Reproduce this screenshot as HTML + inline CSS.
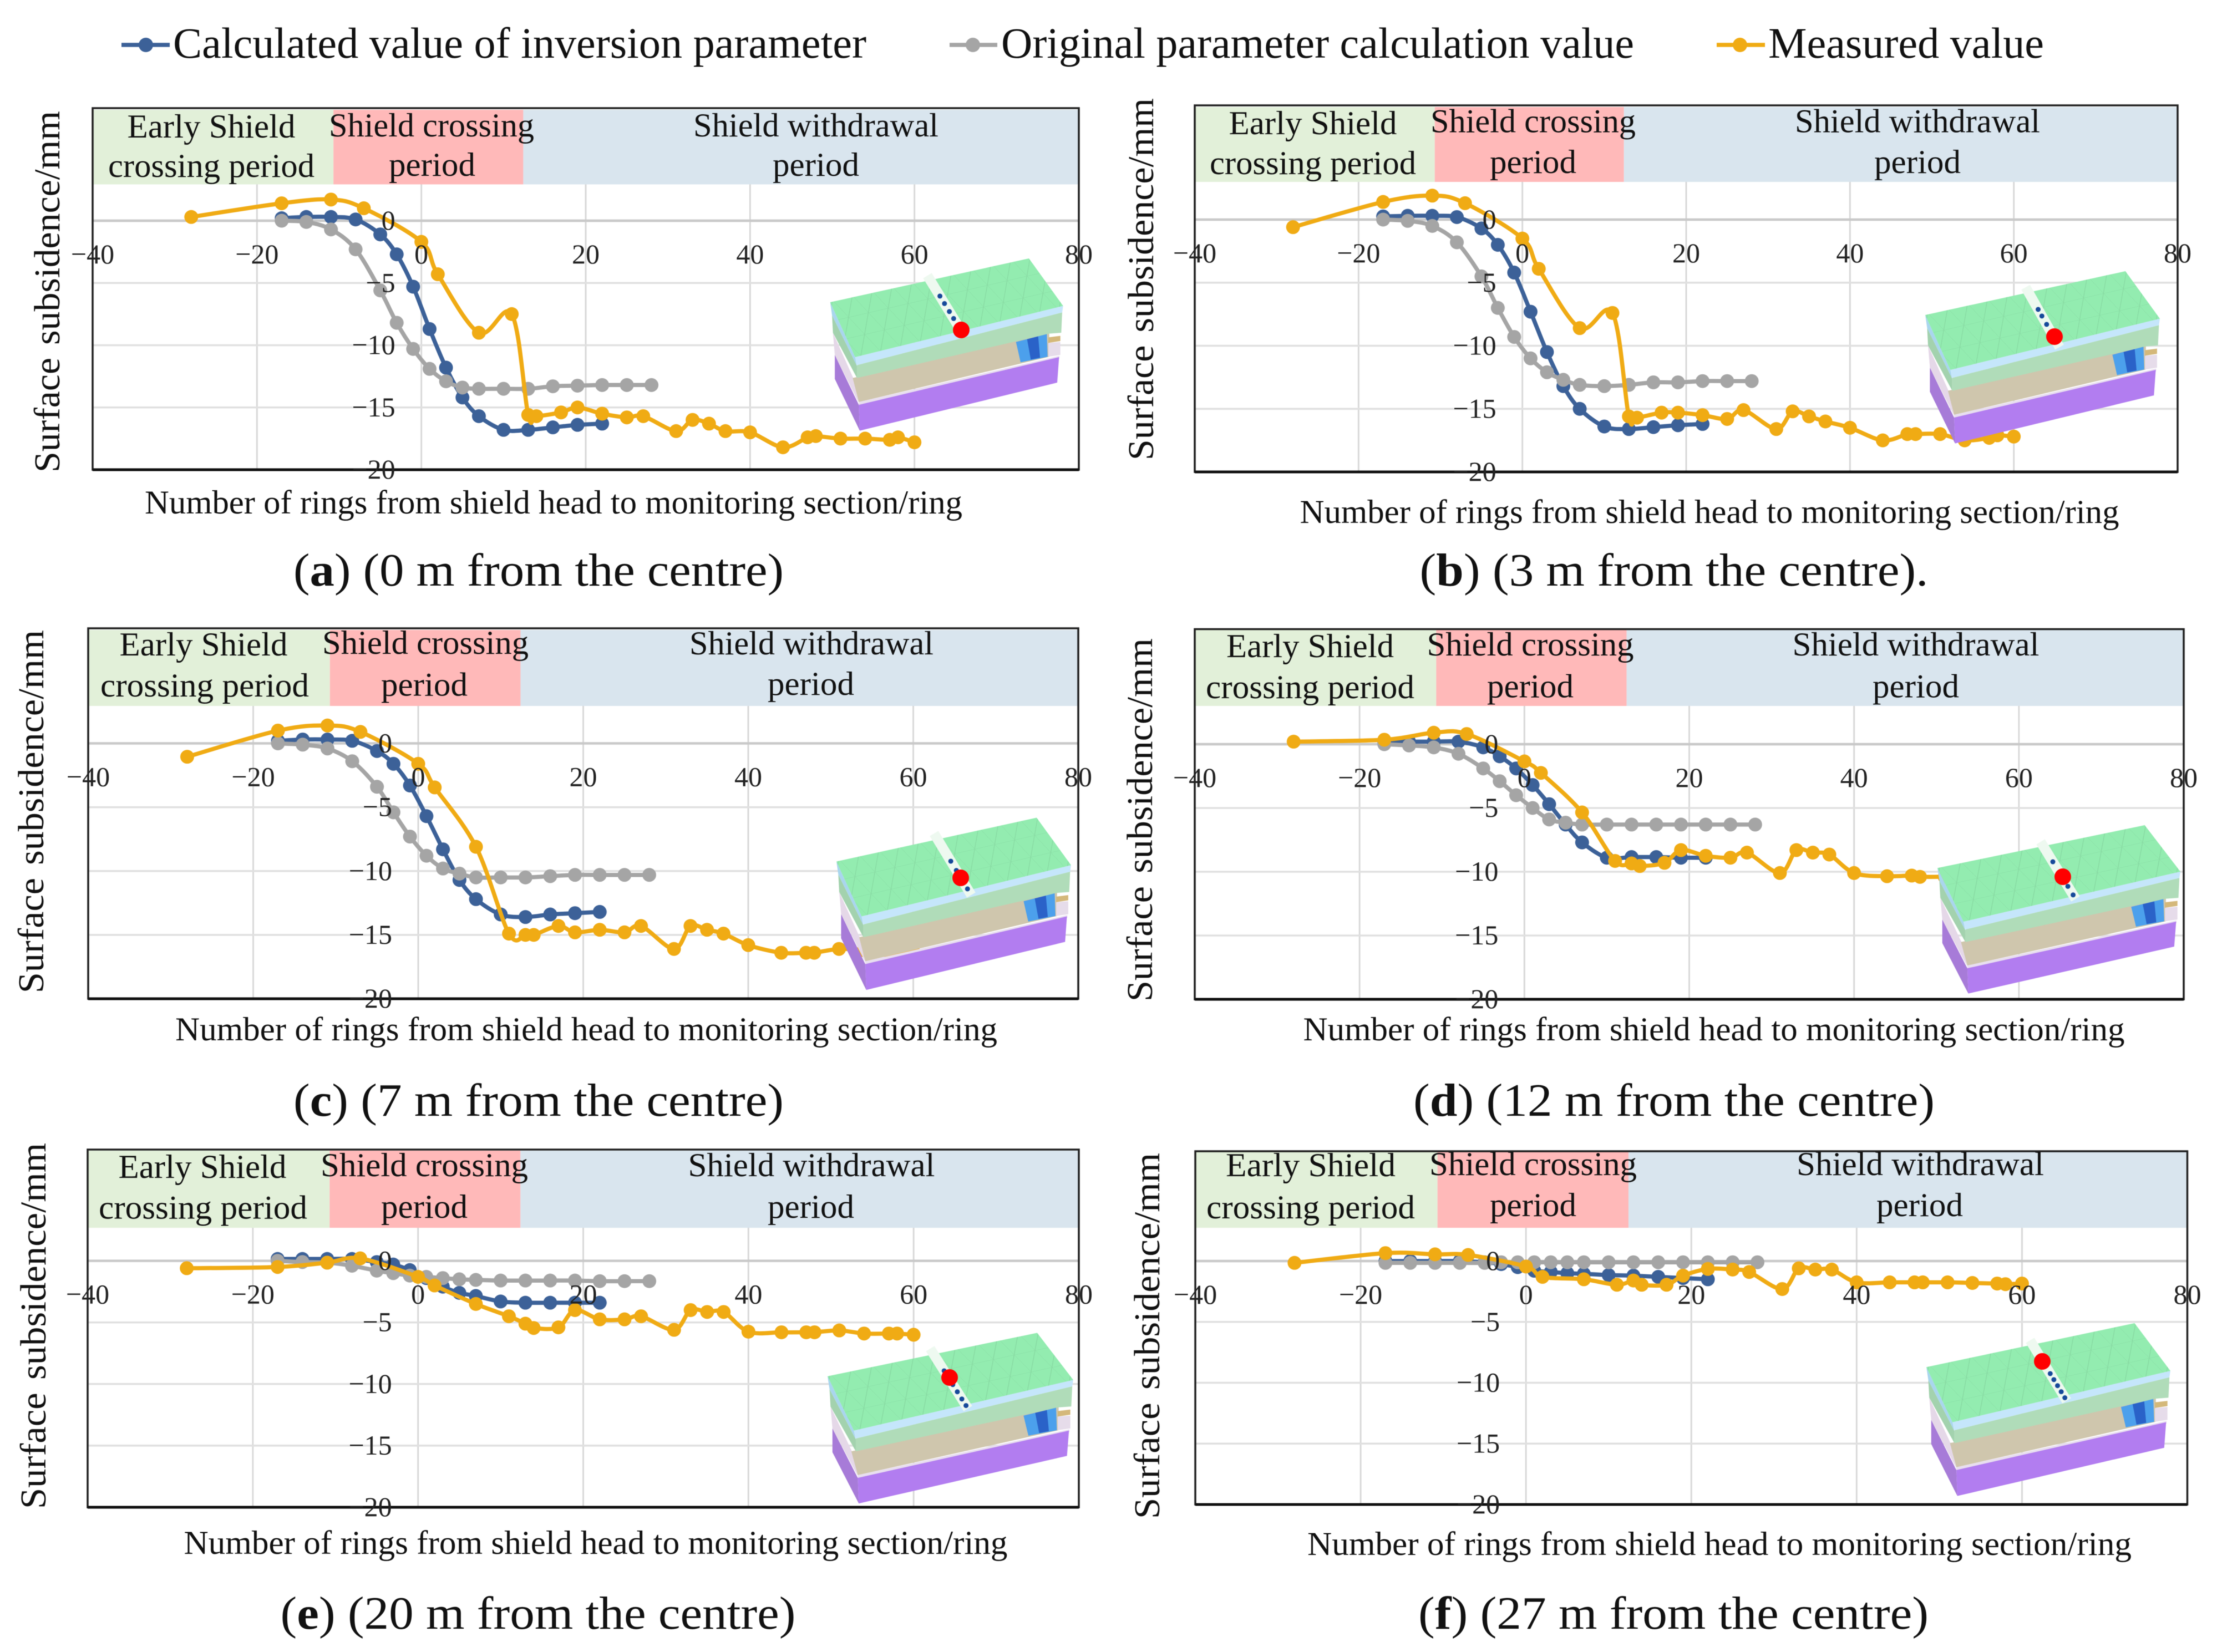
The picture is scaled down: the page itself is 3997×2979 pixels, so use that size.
<!DOCTYPE html>
<html lang="en">
<head>
<meta charset="utf-8">
<title>Surface subsidence versus rings from shield head</title>
<style>
html,body{margin:0;padding:0;background:#fff;}
svg{display:block;filter:blur(0.8px);}
text{font-family:"Liberation Serif",serif;fill:#111;}
.band{font-size:60px;text-anchor:middle;}
.xt{font-size:60px;text-anchor:middle;}
.yt{font-size:66px;word-spacing:6px;}
.cap{font-size:84px;text-anchor:middle;}
.leg{font-size:78px;}
.tick{font-size:50px;fill:#222;}
</style>
</head>
<body>
<svg id="figure" xmlns="http://www.w3.org/2000/svg" width="3997" height="2979" viewBox="0 0 3997 2979">
<defs>
  <pattern id="mesh" width="110" height="110" patternUnits="userSpaceOnUse" patternTransform="rotate(-13) skewX(30)">
    <path d="M0 0H110M0 0V110M0 110L110 0" stroke="#000" stroke-opacity=".09" stroke-width="2.5" fill="none"/>
  </pattern>
  <g id="cube-model">
    <polygon points="155,480 265,725 295,860 165,600" fill="#e5d8e8"/>
    <polygon points="150,385 285,660 285,725 155,480" fill="#a3d2ae"/>
    <polygon points="165,600 295,870 300,1010 165,730" fill="#a77bd8"/>
    <polygon points="262,725 1325,480 1325,610 295,855" fill="#cfc6ad"/>
    <polygon points="295,855 1380,605 1380,620 295,870" fill="#e8def0"/>
    <polygon points="295,870 1378,612 1368,750 300,1010" fill="#b27df0"/>
    <polygon points="285,655 1395,370 1390,480 1325,485 285,725" fill="#b0dcb9"/>
    <polygon points="1320,535 1385,530 1385,600 1320,610" fill="#e6dcea"/>
    <polygon points="1320,505 1385,497 1385,525 1320,535" fill="#d4b87a"/>
    <polygon points="1145,530 1312,487 1316,610 1170,640" fill="#4ca0ec"/>
    <polygon points="1205,515 1265,500 1275,615 1225,625" fill="#2a62c8"/>
    <polygon points="140,315 275,612 285,660 150,385" fill="#a9d6ee"/>
    <polygon points="275,612 1400,335 1395,370 285,655" fill="#c5e6fb"/>
    <polygon points="140,315 1215,78 1400,335 275,612" fill="#93ecb0"/>
    <polygon points="140,315 1215,78 1400,335 275,612" fill="url(#mesh)"/>
  </g>
</defs>

<rect x="0" y="0" width="3997" height="2979" fill="#fff"/>

<!-- Legend -->
<g>
  <g>
    <line x1="219" y1="81" x2="306" y2="81" stroke="#3c6198" stroke-width="7.5"/>
    <circle cx="263" cy="81" r="13" fill="#3c6198"/>
    <text class="leg" x="312" y="104" textLength="1250" lengthAdjust="spacingAndGlyphs">Calculated value of inversion parameter</text>
  </g>
  <g>
    <line x1="1712" y1="81" x2="1798" y2="81" stroke="#a5a5a5" stroke-width="7.5"/>
    <circle cx="1754" cy="81" r="13" fill="#a5a5a5"/>
    <text class="leg" x="1805" y="104" textLength="1141" lengthAdjust="spacingAndGlyphs">Original parameter calculation value</text>
  </g>
  <g>
    <line x1="3095" y1="81" x2="3182" y2="81" stroke="#f0ab14" stroke-width="7.5"/>
    <circle cx="3137" cy="81" r="13" fill="#f0ab14"/>
    <text class="leg" x="3188" y="104" textLength="497" lengthAdjust="spacingAndGlyphs">Measured value</text>
  </g>
</g>

<!-- Panel a -->
<g id="panel-a">
  <g id="plot-a"></g>
  <text class="band" x="381" y="248" textLength="303" lengthAdjust="spacingAndGlyphs">Early Shield</text>
  <text class="band" x="381" y="319" textLength="372" lengthAdjust="spacingAndGlyphs">crossing period</text>
  <text class="band" x="778" y="246" textLength="370" lengthAdjust="spacingAndGlyphs">Shield crossing</text>
  <text class="band" x="779" y="317" textLength="156" lengthAdjust="spacingAndGlyphs">period</text>
  <text class="band" x="1471" y="246" textLength="442" lengthAdjust="spacingAndGlyphs">Shield withdrawal</text>
  <text class="band" x="1471" y="317" textLength="156" lengthAdjust="spacingAndGlyphs">period</text>
  <text class="xt" x="998" y="926" textLength="1474" lengthAdjust="spacingAndGlyphs">Number of rings from shield head to monitoring section/ring</text>
  <text class="yt" transform="translate(107,852) rotate(-90)" textLength="652" lengthAdjust="spacingAndGlyphs">Surface subsidence/mm</text>
  <text class="cap" x="971" y="1056" textLength="884" lengthAdjust="spacingAndGlyphs">(<tspan font-weight="bold">a</tspan>) (0 m from the centre)</text>
</g>

<!-- Panel b -->
<g id="panel-b">
  <g id="plot-b"></g>
  <text class="band" x="2367" y="242" textLength="303" lengthAdjust="spacingAndGlyphs">Early Shield</text>
  <text class="band" x="2367" y="314" textLength="372" lengthAdjust="spacingAndGlyphs">crossing period</text>
  <text class="band" x="2764" y="238.5" textLength="370" lengthAdjust="spacingAndGlyphs">Shield crossing</text>
  <text class="band" x="2764" y="312" textLength="156" lengthAdjust="spacingAndGlyphs">period</text>
  <text class="band" x="3457" y="238.5" textLength="442" lengthAdjust="spacingAndGlyphs">Shield withdrawal</text>
  <text class="band" x="3457" y="312" textLength="156" lengthAdjust="spacingAndGlyphs">period</text>
  <text class="xt" x="3082" y="943" textLength="1477" lengthAdjust="spacingAndGlyphs">Number of rings from shield head to monitoring section/ring</text>
  <text class="yt" transform="translate(2079,830) rotate(-90)" textLength="653" lengthAdjust="spacingAndGlyphs">Surface subsidence/mm</text>
  <text class="cap" x="3018" y="1056" textLength="917" lengthAdjust="spacingAndGlyphs">(<tspan font-weight="bold">b</tspan>) (3 m from the centre).</text>
</g>

<!-- Panel c -->
<g id="panel-c">
  <g id="plot-c"></g>
  <text class="band" x="367" y="1182" textLength="303" lengthAdjust="spacingAndGlyphs">Early Shield</text>
  <text class="band" x="369" y="1256" textLength="376" lengthAdjust="spacingAndGlyphs">crossing period</text>
  <text class="band" x="767" y="1179" textLength="372" lengthAdjust="spacingAndGlyphs">Shield crossing</text>
  <text class="band" x="765" y="1254.5" textLength="156" lengthAdjust="spacingAndGlyphs">period</text>
  <text class="band" x="1463" y="1180" textLength="440" lengthAdjust="spacingAndGlyphs">Shield withdrawal</text>
  <text class="band" x="1462" y="1253" textLength="156" lengthAdjust="spacingAndGlyphs">period</text>
  <text class="xt" x="1057" y="1876" textLength="1482" lengthAdjust="spacingAndGlyphs">Number of rings from shield head to monitoring section/ring</text>
  <text class="yt" transform="translate(78,1791) rotate(-90)" textLength="655" lengthAdjust="spacingAndGlyphs">Surface subsidence/mm</text>
  <text class="cap" x="971" y="2012" textLength="884" lengthAdjust="spacingAndGlyphs">(<tspan font-weight="bold">c</tspan>) (7 m from the centre)</text>
</g>

<!-- Panel d -->
<g id="panel-d">
  <g id="plot-d"></g>
  <text class="band" x="2362" y="1185" textLength="302" lengthAdjust="spacingAndGlyphs">Early Shield</text>
  <text class="band" x="2362" y="1259" textLength="376" lengthAdjust="spacingAndGlyphs">crossing period</text>
  <text class="band" x="2759" y="1182" textLength="373" lengthAdjust="spacingAndGlyphs">Shield crossing</text>
  <text class="band" x="2759" y="1257.5" textLength="156" lengthAdjust="spacingAndGlyphs">period</text>
  <text class="band" x="3454" y="1182" textLength="445" lengthAdjust="spacingAndGlyphs">Shield withdrawal</text>
  <text class="band" x="3454" y="1257.5" textLength="156" lengthAdjust="spacingAndGlyphs">period</text>
  <text class="xt" x="3090" y="1876" textLength="1481" lengthAdjust="spacingAndGlyphs">Number of rings from shield head to monitoring section/ring</text>
  <text class="yt" transform="translate(2077,1806) rotate(-90)" textLength="655" lengthAdjust="spacingAndGlyphs">Surface subsidence/mm</text>
  <text class="cap" x="3018" y="2012" textLength="940" lengthAdjust="spacingAndGlyphs">(<tspan font-weight="bold">d</tspan>) (12 m from the centre)</text>
</g>

<!-- Panel e -->
<g id="panel-e">
  <g id="plot-e"></g>
  <text class="band" x="365" y="2124" textLength="303" lengthAdjust="spacingAndGlyphs">Early Shield</text>
  <text class="band" x="366" y="2197.5" textLength="376" lengthAdjust="spacingAndGlyphs">crossing period</text>
  <text class="band" x="765" y="2121" textLength="374" lengthAdjust="spacingAndGlyphs">Shield crossing</text>
  <text class="band" x="765" y="2196" textLength="156" lengthAdjust="spacingAndGlyphs">period</text>
  <text class="band" x="1463" y="2121" textLength="445" lengthAdjust="spacingAndGlyphs">Shield withdrawal</text>
  <text class="band" x="1462" y="2196" textLength="156" lengthAdjust="spacingAndGlyphs">period</text>
  <text class="xt" x="1074" y="2802" textLength="1485" lengthAdjust="spacingAndGlyphs">Number of rings from shield head to monitoring section/ring</text>
  <text class="yt" transform="translate(82,2721) rotate(-90)" textLength="660" lengthAdjust="spacingAndGlyphs">Surface subsidence/mm</text>
  <text class="cap" x="970" y="2937" textLength="929" lengthAdjust="spacingAndGlyphs">(<tspan font-weight="bold">e</tspan>) (20 m from the centre)</text>
</g>

<!-- Panel f -->
<g id="panel-f">
  <g id="plot-f"></g>
  <text class="band" x="2363" y="2121" textLength="306" lengthAdjust="spacingAndGlyphs">Early Shield</text>
  <text class="band" x="2363" y="2197" textLength="376" lengthAdjust="spacingAndGlyphs">crossing period</text>
  <text class="band" x="2764" y="2119" textLength="374" lengthAdjust="spacingAndGlyphs">Shield crossing</text>
  <text class="band" x="2764" y="2193" textLength="156" lengthAdjust="spacingAndGlyphs">period</text>
  <text class="band" x="3462" y="2119" textLength="446" lengthAdjust="spacingAndGlyphs">Shield withdrawal</text>
  <text class="band" x="3461" y="2193" textLength="156" lengthAdjust="spacingAndGlyphs">period</text>
  <text class="xt" x="3100" y="2804" textLength="1486" lengthAdjust="spacingAndGlyphs">Number of rings from shield head to monitoring section/ring</text>
  <text class="yt" transform="translate(2090,2739) rotate(-90)" textLength="660" lengthAdjust="spacingAndGlyphs">Surface subsidence/mm</text>
  <text class="cap" x="3017" y="2937" textLength="920" lengthAdjust="spacingAndGlyphs">(<tspan font-weight="bold">f</tspan>) (27 m from the centre)</text>
</g>

<g id="models"></g>
</svg>

<script>
// Shared categories (rings from shield head to monitoring section)
const ringsCalculated = [-17,-14,-11,-8,-5,-3,-1,1,3,5,7,10,13,16,19,22];
const ringsOriginal = [-17,-14,-11,-8,-5,-3,-1,1,3,5,7,10,13,16,19,22,25,28];
const ringsMeasured = [-28,-17,-11,-7,0,2,7,11,13,14,17,19,22,25,27,31,33,35,37,40,44,47,48,51,54,57,58,60];

// Axis ticks
const xTickValues = [-40,-20,0,20,40,60,80];
const yTickValues = [0,-5,-10,-15,-20];
const xTickLabels = ["\u221240","\u221220","0","20","40","60","80"];
const yTickLabels = ["0","\u22125","\u221210","\u221215","\u221220"];

// Period boundaries (rings)
const periodBoundaries = [-10.7, 12.4];

// Panel a: 0 m from the centre
const calculatedA = [0.2,0.3,0.3,0.1,-1.1,-2.7,-5.3,-8.7,-11.8,-14.2,-15.7,-16.8,-16.8,-16.6,-16.4,-16.3];
const originalA = [0,-0.1,-0.7,-2.3,-5.6,-8.2,-10.3,-11.9,-12.9,-13.4,-13.5,-13.5,-13.5,-13.3,-13.25,-13.2,-13.2,-13.2];
const measuredA = [0.3,1.4,1.7,1.0,-1.7,-4.3,-9.0,-7.5,-15.6,-15.7,-15.4,-15.0,-15.5,-15.8,-15.7,-16.9,-16.0,-16.3,-16.9,-17.0,-18.2,-17.4,-17.3,-17.5,-17.5,-17.6,-17.4,-17.8];

// Panel b: 3 m from the centre
const calculatedB = [0.25,0.3,0.3,0.2,-0.7,-2,-4.2,-7.3,-10.5,-13.2,-15,-16.4,-16.6,-16.45,-16.3,-16.2];
const originalB = [0,-0.1,-0.5,-1.8,-4.5,-7,-9.3,-11,-12.1,-12.7,-13.1,-13.2,-13.1,-12.9,-12.9,-12.8,-12.8,-12.8];
const measuredB = [-0.6,1.4,1.9,1.3,-1.5,-3.9,-8.6,-7.4,-15.6,-15.7,-15.3,-15.3,-15.5,-15.8,-15.1,-16.6,-15.2,-15.6,-16,-16.5,-17.5,-17,-17,-17,-17.5,-17.3,-17.1,-17.2];

// Panel c: 7 m from the centre
const calculatedC = [0.2,0.3,0.3,0.2,-0.6,-1.6,-3.3,-5.7,-8.3,-10.7,-12.2,-13.4,-13.6,-13.4,-13.3,-13.2];
const originalC = [0,-0.1,-0.4,-1.4,-3.4,-5.4,-7.3,-8.8,-9.8,-10.2,-10.5,-10.5,-10.5,-10.4,-10.3,-10.3,-10.3,-10.3];
const measuredC = [-1.05,1.0,1.4,0.9,-1.6,-3.45,-8.1,-14.9,-15,-15,-14.3,-14.8,-14.6,-14.8,-14.3,-16.1,-14.3,-14.6,-14.9,-15.8,-16.4,-16.4,-16.4,-16.1,-16.2,-16.3,-16.2,-16.3];

// Panel d: 12 m from the centre
const calculatedD = [0.15,0.2,0.2,0.2,-0.25,-0.95,-1.9,-3.2,-4.7,-6.3,-7.7,-8.9,-8.85,-8.85,-8.9,-8.9];
const originalD = [0,-0.1,-0.25,-0.75,-1.9,-2.9,-4,-5,-5.9,-6.15,-6.3,-6.3,-6.3,-6.3,-6.3,-6.3,-6.3,-6.3];
const measuredD = [0.2,0.35,0.9,0.8,-1.35,-2.25,-5.35,-9.15,-9.35,-9.55,-9.3,-8.3,-8.75,-8.9,-8.5,-10.1,-8.3,-8.5,-8.65,-10.1,-10.35,-10.3,-10.4,-10.4,-10.5,-10.5,-10.5,-10.6];

// Panel e: 20 m from the centre
const calculatedE = [0.15,0.15,0.15,0.15,-0.1,-0.3,-0.75,-1.4,-2.1,-2.6,-2.85,-3.3,-3.4,-3.4,-3.4,-3.4];
const originalE = [0,-0.1,-0.15,-0.4,-0.8,-1,-1.2,-1.3,-1.4,-1.5,-1.55,-1.6,-1.6,-1.6,-1.6,-1.65,-1.65,-1.65];
const measuredE = [-0.6,-0.5,-0.15,0.2,-1.3,-2,-3.5,-4.5,-5.1,-5.45,-5.4,-4,-4.75,-4.75,-4.5,-5.6,-4,-4.15,-4.15,-5.75,-5.8,-5.8,-5.8,-5.65,-5.9,-5.9,-5.9,-6];

// Panel f: 27 m from the centre
const calculatedF = [0,0,0,0,-0.1,-0.25,-0.5,-0.8,-0.9,-1,-1.05,-1.15,-1.2,-1.3,-1.4,-1.5];
const originalF = [-0.15,-0.15,-0.15,-0.15,-0.15,-0.1,-0.1,-0.1,-0.1,-0.1,-0.1,-0.1,-0.1,-0.1,-0.1,-0.1,-0.1,-0.1];
const measuredF = [-0.15,0.65,0.55,0.5,-0.45,-1.3,-1.5,-1.95,-1.6,-1.95,-1.95,-1.2,-0.65,-0.7,-0.9,-2.3,-0.6,-0.7,-0.7,-1.75,-1.75,-1.75,-1.75,-1.75,-1.8,-1.85,-1.9,-1.85];

// Panel geometry
const layouts = [
 {id:'a',left:167,right:1945,top:195,bandTop:198,bandBottom:332.5,zero:398,floor:847,calc:calculatedA,orig:originalA,meas:measuredA,
  cube:[1496.7,466,421,311],strip:[1672,497,1727,587],red:[1733,595],dots:[.41,.56,.72,.86]},
 {id:'b',left:2154,right:3926,top:190,bandTop:193,bandBottom:328,zero:396,floor:851,calc:calculatedB,orig:originalB,meas:measuredB,
  cube:[3471,489,424,311],strip:[3652,518,3713,626],red:[3704,607],dots:[.37,.48,.62]},
 {id:'c',left:159,right:1944,top:1133,bandTop:1136,bandBottom:1273,zero:1340.5,floor:1801,calc:calculatedC,orig:originalC,meas:measuredC,
  cube:[1508,1474.5,424,311],strip:[1684,1503,1751,1614],red:[1732,1583],dots:[.45,.6,.9]},
 {id:'d',left:2154,right:3937,top:1134.5,bandTop:1136,bandBottom:1273,zero:1342,floor:1802,calc:calculatedD,orig:originalD,meas:measuredD,
  cube:[3493,1488,439,304],strip:[3679,1518,3742,1621],red:[3719,1581],dots:[.35,.55,.78,.93]},
 {id:'e',left:158,right:1945,top:2073,bandTop:2075,bandBottom:2214,zero:2273.6,floor:2718,calc:calculatedE,orig:originalE,meas:measuredE,
  cube:[1492,2403.5,444,308],strip:[1677,2432,1745,2540],red:[1712,2484],dots:[.37,.6,.72,.84,.95]},
 {id:'f',left:2155,right:3943.5,top:2076,bandTop:2077,bandBottom:2214,zero:2274,floor:2713,calc:calculatedF,orig:originalF,meas:measuredF,
  cube:[3473,2386,441,312],strip:[3660,2417,3726,2526],red:[3682,2455],dots:[.55,.65,.75,.85,.95]}
];

const SVGNS = 'http://www.w3.org/2000/svg';
function mk(tag, parent, attrs){
  const el = document.createElementNS(SVGNS, tag);
  for (const k in attrs) el.setAttribute(k, attrs[k]);
  parent.appendChild(el);
  return el;
}
function xAxisFn(p){ return v => p.left + (v + 40) / 120 * (p.right - p.left); }
function yAxisFn(p){ return v => p.zero + (-v) / 20 * (p.floor - p.zero); }
function smoothPath(pts){
  let d = 'M' + pts[0][0] + ' ' + pts[0][1];
  for (let i = 0; i < pts.length - 1; i++){
    const p0 = pts[Math.max(i - 1, 0)], p1 = pts[i], p2 = pts[i + 1], p3 = pts[Math.min(i + 2, pts.length - 1)];
    const c1x = p1[0] + (p2[0] - p0[0]) / 6, c1y = p1[1] + (p2[1] - p0[1]) / 6;
    const c2x = p2[0] - (p3[0] - p1[0]) / 6, c2y = p2[1] - (p3[1] - p1[1]) / 6;
    d += 'C' + c1x.toFixed(1) + ' ' + c1y.toFixed(1) + ' ' + c2x.toFixed(1) + ' ' + c2y.toFixed(1) + ' ' + p2[0].toFixed(1) + ' ' + p2[1].toFixed(1);
  }
  return d;
}

function drawSeries(g, seriesName, rings, values, color, xf, yf){
  const pts = rings.map((r, i) => [xf(r), yf(values[i])]);
  const line = mk('path', g, {d: smoothPath(pts), fill: 'none', stroke: color, 'stroke-width': 7.5, 'stroke-linejoin': 'round'});
  
  
  pts.forEach(pt => {
    const dot = mk('circle', g, {cx: pt[0], cy: pt[1], r: 12.5, fill: color});
    
    
  });
}

layouts.forEach(p => {
  const g = document.getElementById('plot-' + p.id);
  const xf = xAxisFn(p), yf = yAxisFn(p);

  // gridlines
  xTickValues.forEach(v => {
    const l = mk('line', g, {x1: xf(v), x2: xf(v), y1: p.bandBottom, y2: p.floor, stroke: '#d9d9d9', 'stroke-width': 3});
    
    
  });
  yTickValues.forEach(v => {
    const l = mk('line', g, {x1: p.left, x2: p.right, y1: yf(v), y2: yf(v), stroke: v === 0 ? '#c9c9c9' : '#e0e0e0', 'stroke-width': v === 0 ? 4.5 : 3.5});
    
    
  });

  // period bands
  const b1 = xf(periodBoundaries[0]), b2 = xf(periodBoundaries[1]);
  const bandH = p.bandBottom - p.bandTop;
  const early = mk('rect', g, {x: p.left, y: p.bandTop, width: b1 - p.left, height: bandH, fill: '#e2f0d9'});
  
  
  const crossing = mk('rect', g, {x: b1, y: p.bandTop, width: b2 - b1, height: bandH, fill: '#ffb9b9'});
  
  
  const withdrawal = mk('rect', g, {x: b2, y: p.bandTop, width: p.right - b2, height: bandH, fill: '#d9e5ee'});
  
  

  // series
  drawSeries(g, 'calculated-series', ringsCalculated, p.calc, '#3c6198', xf, yf);
  drawSeries(g, 'original-series', ringsOriginal, p.orig, '#a5a5a5', xf, yf);
  drawSeries(g, 'measured-series', ringsMeasured, p.meas, '#f0ab14', xf, yf);

  // frame
  const frame = mk('rect', g, {x: p.left, y: p.top, width: p.right - p.left, height: p.floor - p.top, fill: 'none', stroke: '#222', 'stroke-width': 3.5});
  
  
  const base = mk('line', g, {x1: p.left, x2: p.right, y1: p.floor, y2: p.floor, stroke: '#111', 'stroke-width': 5});
  
  

  // tick labels
  xTickValues.forEach((v, i) => {
    const t = mk('text', g, {class: 'tick', x: xf(v), y: p.zero + 61 + 16, 'text-anchor': 'middle'});
    
    
    t.textContent = xTickLabels[i];
  });
  yTickValues.forEach((v, i) => {
    const t = mk('text', g, {class: 'tick', x: xf(0) - 47, y: yf(v) + 16, 'text-anchor': 'end'});
    
    
    t.textContent = yTickLabels[i];
  });

  // model inset
  const models = document.getElementById('models');
  const sx = p.cube[2] / 421, sy = p.cube[3] / 311;
  const model = mk('g', models, {});
  
  
  const cube = mk('use', model, {href: '#cube-model', transform: 'translate(' + p.cube[0] + ',' + p.cube[1] + ') scale(' + (sx / 3) + ',' + (sy / 3) + ') translate(-140,-78)'});
  
  
  const s = p.strip;
  const strip = mk('line', model, {x1: s[0], y1: s[1], x2: s[2], y2: s[3], stroke: '#eef9f0', 'stroke-width': 18});
  
  
  p.dots.forEach(t => {
    const d = mk('circle', model, {cx: s[0] + (s[2] - s[0]) * t, cy: s[1] + (s[3] - s[1]) * t, r: 4.5, fill: '#174a9a'});
    
    
  });
  const red = mk('circle', model, {cx: p.red[0], cy: p.red[1], r: 15, fill: '#ff0000'});
  
  
});
</script>
</body>
</html>
